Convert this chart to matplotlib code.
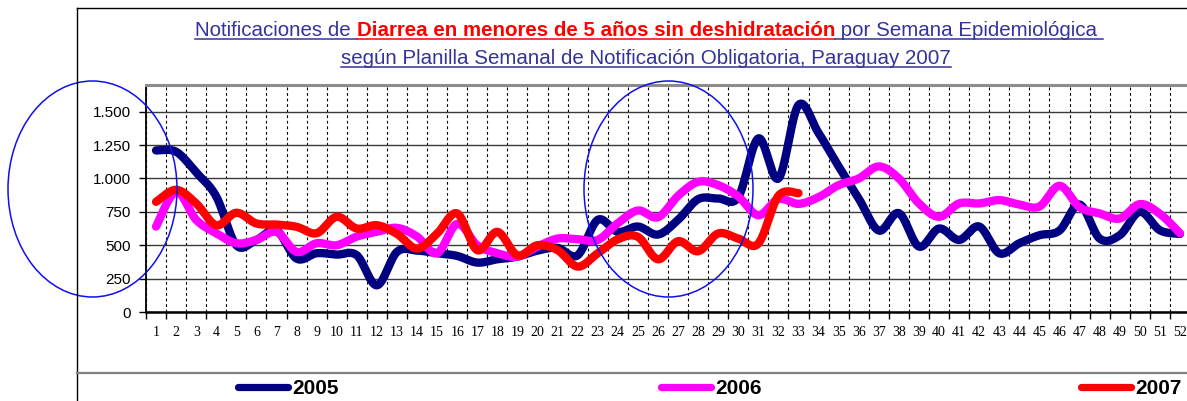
import matplotlib
matplotlib.use('Agg')
import matplotlib.pyplot as plt
from matplotlib.patches import Ellipse
from matplotlib.lines import Line2D
import numpy as np

# ---------------- data ----------------
weeks = list(range(1, 53))
y2005 = [1210, 1200, 1045, 865, 500, 540, 610, 400, 440, 430, 425, 200, 450, 460, 440, 420,
         370, 395, 415, 460, 480, 425, 690, 600, 640, 580, 690, 845, 850, 860, 1300, 1000,
         1550, 1340, 1090, 850, 610, 740, 490, 625, 540, 640, 440, 515, 575, 610, 805, 550,
         575, 750, 612, 585]
y2006 = [640, 900, 690, 590, 515, 540, 600, 450, 515, 500, 565, 600, 630, 565, 440, 660,
         500, 440, 415, 490, 550, 545, 540, 665, 760, 710, 870, 975, 950, 865, 725, 845,
         810, 860, 950, 1000, 1090, 1000, 813, 713, 813, 813, 838, 805, 790, 945, 785, 738,
         700, 808, 735, 590]
y2007 = [825, 915, 813, 650, 743, 663, 655, 638, 590, 713, 625, 650, 585, 475, 588, 738,
         463, 600, 425, 500, 463, 340, 440, 545, 563, 395, 530, 455, 588, 550, 513, 870, 890]
series_names = ["2005", "2006", "2007"]
series_colors = ["#000080", "#FF00FF", "#FF0000"]
yticks = [0, 250, 500, 750, 1000, 1250, 1500]

title_line1 = [("Notificaciones de ", "#333399", "normal"),
               ("Diarrea en menores de 5 años sin deshidratación", "#FF0000", "bold"),
               (" por Semana Epidemiológica ", "#333399", "normal")]
title_line2 = [("según Planilla Semanal de Notificación Obligatoria, Paraguay 2007", "#333399", "normal")]

# ---------------- figure ----------------
W, H = 1187, 401
fig = plt.figure(figsize=(W / 100, H / 100), dpi=100)
ax = fig.add_axes([146 / W, (H - 312) / H, (1190 - 146) / W, (312 - 85) / H])


def smooth(xs, ys, n=24):
    P = np.column_stack([np.asarray(xs, float), np.asarray(ys, float)])
    P = np.vstack([P[0], P, P[-1]])
    out = []
    t = np.linspace(0, 1, n, endpoint=False)[:, None]
    for i in range(1, len(P) - 2):
        p0, p1, p2, p3 = P[i - 1], P[i], P[i + 1], P[i + 2]
        c = 0.5 * ((2 * p1) + (-p0 + p2) * t + (2 * p0 - 5 * p1 + 4 * p2 - p3) * t ** 2
                   + (-p0 + 3 * p1 - 3 * p2 + p3) * t ** 3)
        out.append(c)
    out.append(P[-2][None, :])
    return np.vstack(out)


for vals, col in zip([y2005, y2006, y2007], series_colors):
    xs = weeks[:len(vals)]
    c = smooth(xs, vals)
    ax.plot(c[:, 0], c[:, 1], color=col, lw=6.0, solid_capstyle='round',
            solid_joinstyle='round', zorder=3)

ax.set_xlim(0.5, 52.5)
ax.set_ylim(0, 1700)

# category boundaries (major) and labels (minor)
ax.set_xticks(np.arange(0.5, 53, 1.0))
ax.set_xticklabels([])
ax.set_xticks(weeks, minor=True)
ax.set_xticklabels([str(w) for w in weeks], minor=True,
                   fontfamily='Liberation Serif', fontsize=10)
ax.tick_params(axis='x', which='major', direction='out', length=5, width=1, color='black')
ax.tick_params(axis='x', which='minor', length=0, pad=10)

ax.set_yticks(yticks)
ax.set_yticklabels([f"{v:,}".replace(",", ".") for v in yticks],
                   fontfamily='Liberation Sans', fontsize=11)
ax.tick_params(axis='y', direction='out', length=5, width=1, color='black', pad=6)

ax.grid(axis='x', which='major', color='black', lw=0.8, linestyle=(0, (2.5, 2.5)), zorder=1)
ax.grid(axis='y', which='major', color='#3a3a3a', lw=1.0, zorder=1)
ax.set_axisbelow(True)

ax.spines['left'].set_color('black')
ax.spines['left'].set_linewidth(1.3)
ax.spines['bottom'].set_color('black')
ax.spines['bottom'].set_linewidth(1.8)
ax.spines['top'].set_color('#8c8c8c')
ax.spines['top'].set_linewidth(2.2)
ax.spines['right'].set_visible(False)

# ---------------- overlay (pixel coordinates) ----------------
ov = fig.add_axes([0, 0, 1, 1], zorder=5)
ov.set_xlim(0, W)
ov.set_ylim(H, 0)
ov.axis('off')

# chart frame
ov.add_line(Line2D([77, 77], [8, H], color='black', lw=1))
ov.add_line(Line2D([77, W], [8, 8], color='black', lw=1))
ov.add_line(Line2D([77, W], [373, 373], color='#808080', lw=1.6))

renderer = fig.canvas.get_renderer()


def rich_line(parts, y_base, cx, size=14.8):
    texts = []
    for s, col, wt in parts:
        t = ov.text(0, y_base, s, color=col, fontweight=wt, fontsize=size,
                    fontfamily='Liberation Sans', va='baseline', ha='left')
        texts.append(t)
    widths = [t.get_window_extent(renderer).width for t in texts]
    x = cx - sum(widths) / 2
    for t, w, (s, col, wt) in zip(texts, widths, parts):
        t.set_x(x)
        ov.add_line(Line2D([x, x + w], [y_base + 3, y_base + 3], color=col, lw=1.1))
        x += w


rich_line(title_line1, 36, 649)
rich_line(title_line2, 64, 646)

# legend
leg_x = [238, 661, 1081]
for name, col, lx in zip(series_names, series_colors, leg_x):
    ov.add_line(Line2D([lx, lx + 50], [387, 387], color=col, lw=5.2, solid_capstyle='round'))
    ov.text(lx + 54, 388.5, name, fontsize=15, fontweight='bold', fontfamily='Liberation Sans',
            va='center', ha='left', color='black')

# highlight ellipses
for cxy in [(92.5, 189), (668.5, 189)]:
    ov.add_patch(Ellipse(cxy, 169, 216, fill=False, edgecolor='#1010ee', lw=1.1))

fig.savefig('out.png', dpi=100)
